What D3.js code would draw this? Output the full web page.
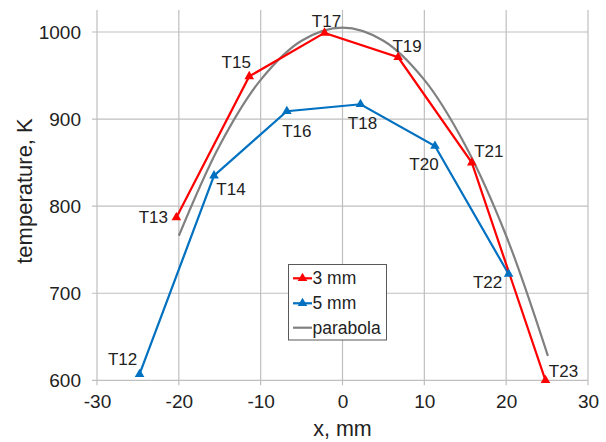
<!DOCTYPE html>
<html><head><meta charset="utf-8">
<script src="https://cdn.jsdelivr.net/npm/d3@7"></script>
<style>
html,body{margin:0;padding:0;background:#fff;}
svg{display:block;font-family:"Liberation Sans",Arial,sans-serif;}
</style></head>
<body>
<svg id="chart" width="606" height="442"></svg>
<script>
// ---- data ----
const xTicks = [-30, -20, -10, 0, 10, 20, 30];
const yTicks = [600, 700, 800, 900, 1000];

const labels3 = ["T13", "T15", "T17", "T19", "T21", "T23"];
const x3 = [-20.3, -11.4, -2.2, 6.8, 15.8, 24.8];
const t3 = [787, 949, 999, 971, 850, 600];

const labels5 = ["T12", "T14", "T16", "T18", "T20", "T22"];
const x5 = [-24.8, -15.7, -6.8, 2.2, 11.3, 20.3];
const t5 = [607, 835, 909, 917, 869, 722];

const xPar = [-20, -15, -10, -5, 0, 5, 10, 15, 20, 25.1];
const tPar = [766, 870, 945, 990, 1005, 990, 945, 870, 766, 628];

const seriesNames = ["3 mm", "5 mm", "parabola"];

// ---- label placement (offsets from marker, px) ----
const off3 = [[-23, 0], [-13, -14], [2, -12], [9, -11], [17, -12], [18, -9]];
const off5 = [[-17, -15], [17, 13], [10, 20], [2, 19], [-11, 18], [-21, 8]];

const colors = ["#ff0000", "#0070c0", "#808080"];

const svg = d3.select("#chart");
const pL = 97, pR = 588, pT = 10, pB = 380.3;
const x = d3.scaleLinear().domain([-30, 30]).range([pL, pR]);
const y = d3.scaleLinear().domain([600, 1000]).range([pB, 32]);

const gridColor = "#bfbfbf";

// gridlines
svg.append("g").selectAll("line").data(xTicks).join("line")
  .attr("x1", d => x(d)).attr("x2", d => x(d))
  .attr("y1", pT).attr("y2", pB + 5)
  .attr("stroke", gridColor).attr("stroke-width", 1.2);
svg.append("g").selectAll("line").data(yTicks).join("line")
  .attr("x1", pL - 5).attr("x2", pR)
  .attr("y1", d => y(d)).attr("y2", d => y(d))
  .attr("stroke", gridColor).attr("stroke-width", 1.2);

// axes tick labels
const fmt = d => String(d);
const xAxis = d3.axisBottom(x).tickValues(xTicks).tickSize(0).tickPadding(14).tickFormat(fmt);
const gx = svg.append("g").attr("transform", `translate(0,${pB})`).call(xAxis);
gx.select(".domain").remove();
gx.selectAll("text").attr("font-size", 19).attr("fill", "#222").attr("font-family", "Liberation Sans, Arial, sans-serif");

const yAxis = d3.axisLeft(y).tickValues(yTicks).tickSize(0).tickPadding(16).tickFormat(fmt);
const gy = svg.append("g").attr("transform", `translate(${pL},0)`).call(yAxis);
gy.select(".domain").remove();
gy.selectAll("text").attr("font-size", 19).attr("fill", "#222").attr("font-family", "Liberation Sans, Arial, sans-serif");

// axis titles
svg.append("text").attr("x", (pL + pR) / 2).attr("y", 436)
  .attr("text-anchor", "middle").attr("font-size", 21.5).attr("fill", "#222").text("x, mm");
svg.append("text").attr("transform", `translate(32,191) rotate(-90)`)
  .attr("text-anchor", "middle").attr("font-size", 22).attr("fill", "#222").text("temperature, K");

// lines
const line = d3.line().x(d => x(d[0])).y(d => y(d[1]));
const parLine = d3.line().x(d => x(d[0])).y(d => y(d[1])).curve(d3.curveCatmullRom.alpha(0.5));

const par = xPar.map((v, i) => [v, tPar[i]]);
const s3 = x3.map((v, i) => [v, t3[i]]);
const s5 = x5.map((v, i) => [v, t5[i]]);

svg.append("path").attr("d", parLine(par)).attr("fill", "none").attr("stroke", colors[2]).attr("stroke-width", 2.2);
svg.append("path").attr("d", line(s5)).attr("fill", "none").attr("stroke", colors[1]).attr("stroke-width", 2.2);
svg.append("path").attr("d", line(s3)).attr("fill", "none").attr("stroke", colors[0]).attr("stroke-width", 2.2);

const tri = d3.symbol().type(d3.symbolTriangle).size(40);
function markers(data, color) {
  svg.append("g").selectAll("path").data(data).join("path")
    .attr("d", tri).attr("transform", d => `translate(${x(d[0])},${y(d[1])})`)
    .attr("fill", color);
}
markers(s5, colors[1]);
markers(s3, colors[0]);

function ptLabels(data, names, offs) {
  svg.append("g").selectAll("text").data(data).join("text")
    .attr("x", (d, i) => x(d[0]) + offs[i][0])
    .attr("y", (d, i) => y(d[1]) + offs[i][1])
    .attr("dy", "0.35em").attr("text-anchor", "middle")
    .attr("font-size", 17).attr("fill", "#222")
    .text((d, i) => names[i]);
}
ptLabels(s3, labels3, off3);
ptLabels(s5, labels5, off5);

// legend
const lg = svg.append("g");
lg.append("rect").attr("x", 288.5).attr("y", 264.5).attr("width", 98).attr("height", 75.5)
  .attr("fill", "#fff").attr("stroke", "#595959").attr("stroke-width", 1);
const rowsY = [278.3, 303.3, 327.7];
seriesNames.forEach((n, i) => {
  lg.append("line").attr("x1", 293).attr("x2", 312).attr("y1", rowsY[i]).attr("y2", rowsY[i])
    .attr("stroke", colors[i]).attr("stroke-width", 2.2);
  if (i < 2) lg.append("path").attr("d", tri).attr("transform", `translate(302.5,${rowsY[i]})`).attr("fill", colors[i]);
  lg.append("text").attr("x", 312.5).attr("y", rowsY[i]).attr("dy", "0.35em")
    .attr("font-size", 17.5).attr("fill", "#222").text(n);
});
</script>
</body></html>
